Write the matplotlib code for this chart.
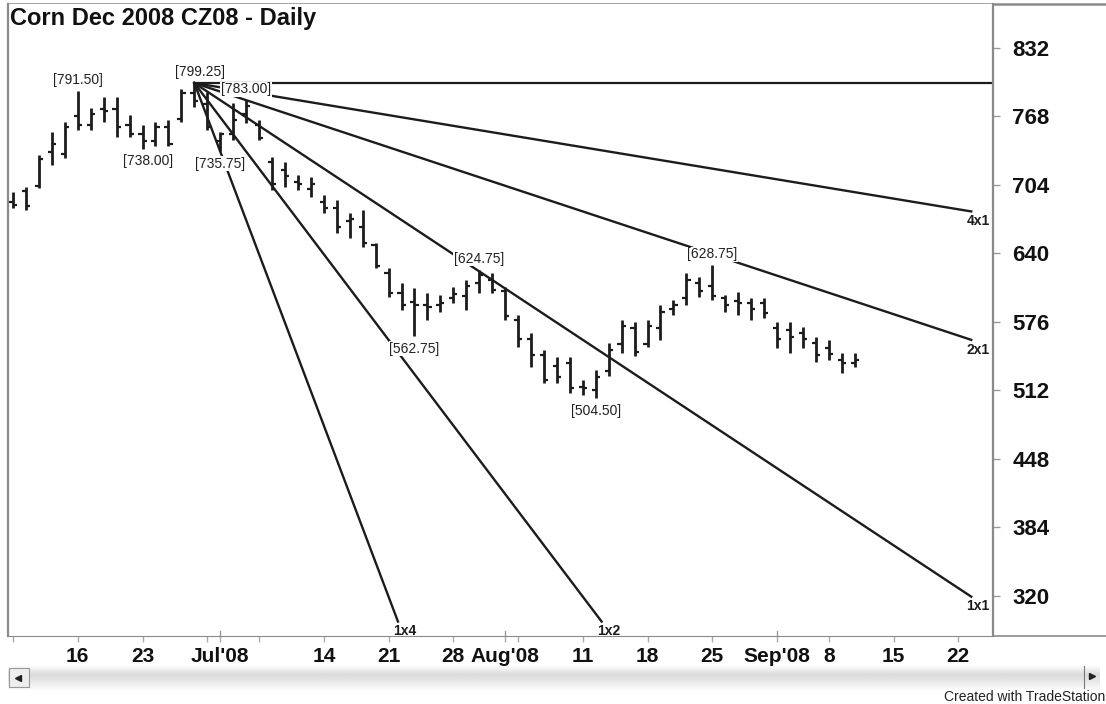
import numpy as np
import matplotlib.pyplot as plt
from matplotlib.patches import Rectangle

plt.rcParams['font.family'] = ['Liberation Sans', 'DejaVu Sans']

# daily bars Jun 9 .. Sep 10 2008, x = trading day number (0 = Jun 9)
highs = [697.4, 702.1, 732.0, 753.5, 762.8, 791.5, 775.9, 786.2, 786.2, 769.4,
         760.0, 762.8, 764.7, 793.7, 799.25, 790.9, 753.5, 780.6, 783.0, 764.7,
         730.1, 725.5, 713.3, 711.4, 694.6, 690.0, 677.8, 680.6, 649.8, 626.4,
         612.4, 607.7, 603.0, 601.2, 608.6, 615.2, 624.75, 621.7, 608.6, 582.5,
         565.6, 549.8, 543.2, 543.2, 521.7, 531.1, 556.3, 577.8, 575.9, 577.8,
         591.8, 596.5, 621.7, 618.0, 628.75, 601.2, 604.0, 598.4, 598.4, 575.9,
         575.9, 571.2, 561.9, 559.1, 546.9, 546.9]
lows = [682.5, 680.6, 701.2, 722.7, 729.2, 755.4, 755.4, 762.8, 748.8, 748.8,
        738.0, 740.4, 740.4, 762.8, 776.9, 755.4, 735.75, 746.0, 761.9, 746.0,
        699.3, 702.1, 699.3, 692.7, 677.8, 659.1, 654.4, 646.0, 626.4, 599.3,
        587.1, 562.75, 577.8, 585.3, 593.7, 587.1, 603.0, 603.0, 577.8, 552.6,
        533.9, 518.9, 518.9, 509.6, 507.7, 504.5, 525.5, 547.0, 544.2, 552.6,
        559.1, 582.5, 591.8, 599.3, 596.5, 585.3, 582.5, 577.8, 579.7, 551.6,
        546.9, 551.6, 538.5, 540.4, 528.3, 533.9]
opens = [688, 698, 703, 735, 733, 768, 760, 775, 775, 760,
         752, 745, 758, 766, 790, 780, 745, 752, 770, 760,
         725, 718, 707, 700, 688, 682, 670, 665, 648, 622,
         603, 595, 592, 592, 598, 600, 612, 615, 605, 578,
         560, 545, 535, 538, 515, 512, 530, 555, 570, 555,
         570, 588, 598, 612, 610, 598, 596, 594, 594, 570,
         568, 566, 556, 552, 540, 538]
closes = [685, 684, 728, 742, 758, 760, 770, 773, 758, 752,
          745, 758, 742, 790, 782, 758, 752, 765, 778, 748,
          705, 712, 705, 705, 682, 665, 672, 650, 628, 603,
          592, 592, 590, 594, 602, 610, 620, 606, 582, 560,
          545, 522, 525, 514, 514, 525, 550, 572, 548, 572,
          585, 592, 615, 605, 600, 592, 594, 588, 584, 560,
          562, 560, 545, 546, 538, 540]

# marked highs / lows: (bar, price, side)
marks = [(5, 791.50, 'hi'), (14, 799.25, 'hi'), (10, 738.00, 'lo'),
         (16, 735.75, 'lo'), (18, 783.00, 'hi'), (36, 624.75, 'hi'),
         (31, 562.75, 'lo'), (45, 504.50, 'lo'), (54, 628.75, 'hi')]

# gann fan from the 799.25 high, 1x1 = 8 points per bar
fan_bar = 14
fan_price = 799.25
fan_unit = 8.0
fan_names = ['4x1', '2x1', '1x1', '1x2', '1x4']
fan_ratio = [0.25, 0.5, 1.0, 2.0, 4.0]
fan_end_bar = 74
fan_floor = 296.0

yticks = [320, 384, 448, 512, 576, 640, 704, 768, 832]
xtick_bars = [5, 10, 16, 24, 29, 34, 38, 44, 49, 54, 59, 63, 68, 73]
xtick_labels = ['16', '23', "Jul'08", '14', '21', '28', "Aug'08",
                '11', '18', '25', "Sep'08", '8', '15', '22']
week_bars = [0, 15, 19, 39]
month_bars = [16, 38, 59]

W, H = 1106, 704
fig = plt.figure(figsize=(W / 100, H / 100), dpi=100)
fig.patch.set_facecolor('white')

# scrollbar (drawn first, under the chart)
sb = fig.add_axes([8 / W, (H - 690) / H, (1100 - 8) / W, 24 / H])
sb.set_zorder(0)
grad = np.concatenate([np.linspace(0.98, 0.86, 9), np.linspace(0.86, 0.98, 15)])
sb.imshow(np.tile(grad[:, None], (1, 50)), cmap='gray', vmin=0, vmax=1,
          aspect='auto', extent=[0, 1, 0, 1])
sb.add_patch(Rectangle((0.001, 0.12), 0.018, 0.8, fc='#eeeeee', ec='#999999', lw=0.8))
sb.plot([0.0095], [0.52], marker='<', ms=4, color='#222222')
sb.plot([0.985, 0.985], [0.1, 1.0], color='#777777', lw=0.8)
sb.plot([0.993], [0.6], marker='>', ms=4, color='#222222')
sb.set_xlim(0, 1)
sb.set_ylim(0, 1)
sb.axis('off')

ax = fig.add_axes([8 / W, (H - 636) / H, (993 - 8) / W, (636 - 4) / H])
ax.set_zorder(2)

x = np.arange(len(highs))
ink = '#1c1c1c'
ax.vlines(x, lows, highs, color=ink, lw=2.0, zorder=3)
ax.hlines(opens, x - 0.32, x, color=ink, lw=1.6, zorder=3)
ax.hlines(closes, x, x + 0.32, color=ink, lw=1.6, zorder=3)

# horizontal line at the high
ax.plot([fan_bar, 76], [fan_price, fan_price], color=ink, lw=1.6, zorder=2)
for name, r in zip(fan_names, fan_ratio):
    slope = fan_unit * r
    end = fan_end_bar
    if fan_price - slope * (end - fan_bar) < fan_floor:
        end = fan_bar + (fan_price - fan_floor) / slope
    yend = fan_price - slope * (end - fan_bar)
    ax.plot([fan_bar, end], [fan_price, yend], color=ink, lw=1.7, zorder=2)
    ax.annotate(name, (end, yend), xytext=(5, -7), textcoords='offset points',
                ha='center', va='center', fontsize=10, fontweight='bold',
                color=ink, zorder=4)

for b, p, side in marks:
    dx = 4 if b in (10, 14) else 0
    dy = 3 if side == 'hi' else -4
    ax.annotate('[%.2f]' % p, (b, p), xytext=(dx, dy), textcoords='offset points',
                ha='center', va='bottom' if side == 'hi' else 'top', fontsize=10,
                color='#222222', zorder=5,
                bbox=dict(boxstyle='square,pad=0.05', fc='white', ec='none'))

ax.set_xlim(-0.39, 75.68)
ax.set_ylim(282.5, 873.1)

ax.yaxis.tick_right()
ax.set_yticks(yticks)
ax.set_yticklabels([str(v) for v in yticks], fontsize=16, fontweight='bold')
ax.tick_params(axis='y', direction='out', length=5, width=1, color='#999999',
               pad=9, labelcolor='#111111')

ax.set_xticks(xtick_bars)
ax.set_xticklabels(xtick_labels, fontsize=15, fontweight='bold', color='#111111')
ax.set_xticks(week_bars + month_bars, minor=True)
ax.tick_params(axis='x', which='major', direction='out', length=4, width=1,
               color='#aaaaaa', pad=4)
ax.tick_params(axis='x', which='minor', direction='out', length=4, width=1,
               color='#aaaaaa')

for s in ['top', 'left', 'right', 'bottom']:
    ax.spines[s].set_color('#8a8a8a')
ax.spines['top'].set_visible(False)
ax.spines['right'].set_linewidth(1.6)
ax.spines['left'].set_linewidth(1.6)

# month ticks crossing the axis line
for b in month_bars:
    ax.plot([b, b], [0, 0.008], transform=ax.get_xaxis_transform(),
            color='#999999', lw=1, clip_on=False)

# frame lines spanning the full window
fig.add_artist(plt.Line2D([8 / W, 1], [1 - 4 / H, 1 - 4 / H], color='#8a8a8a', lw=1.8))
fig.add_artist(plt.Line2D([8 / W, 1], [(H - 636) / H, (H - 636) / H], color='#8a8a8a', lw=1.2))

fig.text(10 / W, 1 - 19 / H, 'Corn Dec 2008 CZ08 - Daily', fontsize=17,
         fontweight='bold', ha='left', va='center', color='#111111')
fig.text(0.999, 1 - 697 / H, 'Created with TradeStation', fontsize=10,
         ha='right', va='center', color='#222222')

fig.savefig('out.png', dpi=100, facecolor='white')
